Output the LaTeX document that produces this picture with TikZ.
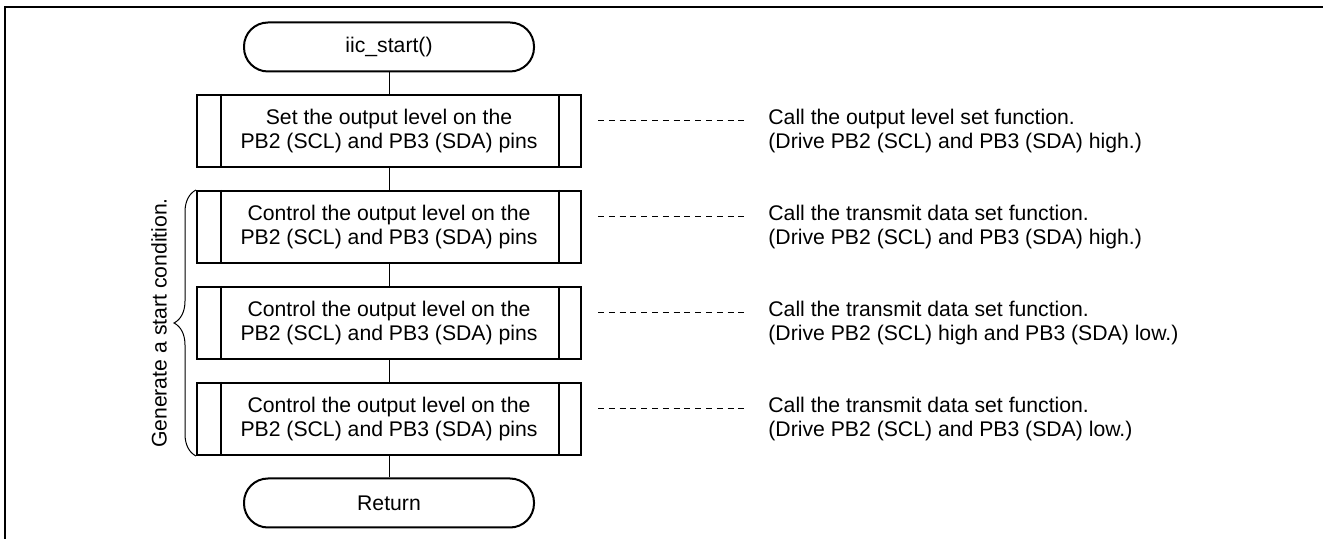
\documentclass[tikz,border=0pt]{standalone}
\usepackage{fontspec}
\setmainfont{Liberation Sans}
\usetikzlibrary{decorations.pathreplacing}

\tikzset{
    every node/.style={font=\fontsize{10.6}{12.4}\selectfont},
    term/.style={draw, line width=1pt, rounded corners=12pt, minimum width=145pt, minimum height=24.5pt},
    procbox/.style={draw, line width=1pt, minimum width=192pt, minimum height=36pt, align=center},
    link/.style={line width=0.5pt},
    note/.style={align=left, anchor=west, inner sep=0pt},
    dashline/.style={line width=0.5pt, dash pattern=on 3pt off 2.4pt}
}

\begin{document}
\begin{tikzpicture}[x=0.5pt, y=-0.5pt]
            \useasboundingbox (0,0) rectangle (1323,539);
            \draw[line width=1.3pt] (5,545) -- (5,7) -- (1330,7);

            \node[term] (start) at (389,47) {iic\_start()};
            \foreach \t/\c[count=\i] in {
                {Set the output level on the\\PB2 (SCL) and PB3 (SDA) pins}/{Call the output level set function.\\(Drive PB2 (SCL) and PB3 (SDA) high.)},
                {Control the output level on the\\PB2 (SCL) and PB3 (SDA) pins}/{Call the transmit data set function.\\(Drive PB2 (SCL) and PB3 (SDA) high.)},
                {Control the output level on the\\PB2 (SCL) and PB3 (SDA) pins}/{Call the transmit data set function.\\(Drive PB2 (SCL) high and PB3 (SDA) low.)},
                {Control the output level on the\\PB2 (SCL) and PB3 (SDA) pins}/{Call the transmit data set function.\\(Drive PB2 (SCL) and PB3 (SDA) low.)}} {
                \node[procbox] (b\i) at (389,35+\i*96) {\t};
                \draw[line width=1pt] ([xshift=12.5pt]b\i.north west) -- ([xshift=12.5pt]b\i.south west);
                \draw[line width=1pt] ([xshift=-11.5pt]b\i.north east) -- ([xshift=-11.5pt]b\i.south east);
                \node[note] (n\i) at (768,35+\i*96) {\c};
                \coordinate (ds\i) at ([xshift=8pt,yshift=5.25pt]b\i.east);
                \coordinate (de\i) at ([xshift=-10.5pt,yshift=5.25pt]n\i.west);
                \draw[dashline] (ds\i) -- (de\i);
            }
            \node[term] (ret) at (389,503) {Return};

            \draw[link] (start) -- (b1) (b1) -- (b2) (b2) -- (b3) (b3) -- (b4) (b4) -- (ret);

            \draw[link, decorate, decoration={brace, amplitude=11pt}] (b4.south west) -- (b2.north west);
            \node[rotate=90] (cond) at (159,323) {Generate a start condition.};
        \end{tikzpicture}
\end{document}
